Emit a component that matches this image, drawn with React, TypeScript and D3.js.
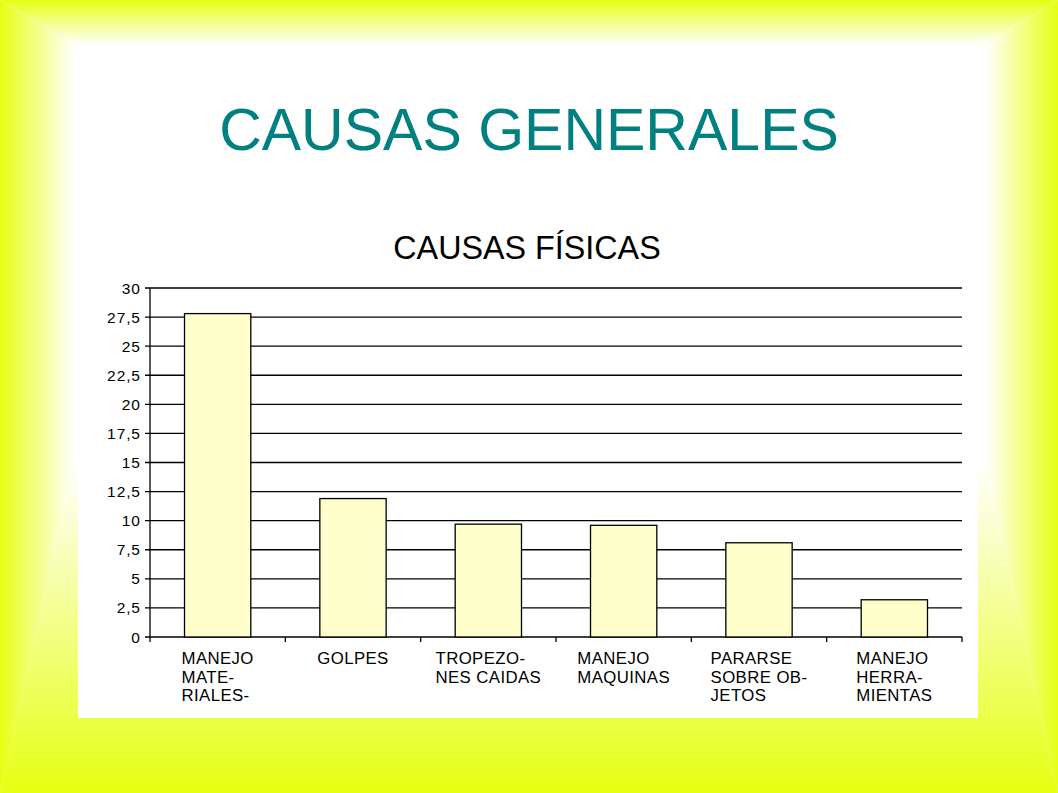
import React from "react";
import * as d3 from "d3";

const categoryLines: string[][] = [
  ["MANEJO", "MATE-", "RIALES-"],
  ["GOLPES"],
  ["TROPEZO-", "NES CAIDAS"],
  ["MANEJO", "MAQUINAS"],
  ["PARARSE", "SOBRE OB-", "JETOS"],
  ["MANEJO", "HERRA-", "MIENTAS"],
];
const values: number[] = [27.8, 11.9, 9.7, 9.6, 8.1, 3.2];
const yTickValues: number[] = [0, 2.5, 5, 7.5, 10, 12.5, 15, 17.5, 20, 22.5, 25, 27.5, 30];
const yTickLabels: string[] = ["0", "2,5", "5", "7,5", "10", "12,5", "15", "17,5", "20", "22,5", "25", "27,5", "30"];
const mainTitle = "CAUSAS GENERALES";
const chartTitle = "CAUSAS FÍSICAS";

const W = 1058;
const H = 793;
const YEL = "#e6ff12";
const FONT = "'Liberation Sans', Arial, sans-serif";
const CAT_FONT_SIZE = 16.8;
const CAT_SPACING = 0.4;
const TICK_FONT_SIZE = 15.5;
const TICK_SPACING = 0.9;

let measureCtx: CanvasRenderingContext2D | null = null;
function measure(text: string, size: number, spacing: number): number {
  if (!measureCtx) {
    const c = document.createElement("canvas");
    measureCtx = c.getContext("2d");
  }
  if (!measureCtx) return text.length * size * 0.6;
  measureCtx.font = `${size}px 'Liberation Sans', Arial, sans-serif`;
  return measureCtx.measureText(text).width + spacing * text.length;
}

export default function App() {
  const left = 150, right = 962, top = 288, bottom = 637;
  const keys = categoryLines.map((_, i) => String(i));
  const x = d3.scaleBand<string>().domain(keys).range([left, right]).padding(0);
  const y = d3.scaleLinear().domain([0, 30]).range([bottom, top]);
  const barW = x.bandwidth() * 0.49;

  const ix = 75, iy = 45, ir = 985, ib = 460;

  return (
    <svg width={W} height={H} style={{ position: "absolute", left: 0, top: 0, display: "block" }}>
      <defs>
        <linearGradient id="gTop" gradientUnits="userSpaceOnUse" x1="0" y1="0" x2="0" y2={iy}>
          <stop offset="0" stopColor={YEL} />
          <stop offset="1" stopColor="#ffffff" />
        </linearGradient>
        <linearGradient id="gLeft" gradientUnits="userSpaceOnUse" x1="0" y1="0" x2={ix} y2="0">
          <stop offset="0" stopColor={YEL} />
          <stop offset="1" stopColor="#ffffff" />
        </linearGradient>
        <linearGradient id="gRight" gradientUnits="userSpaceOnUse" x1={W} y1="0" x2={ir} y2="0">
          <stop offset="0" stopColor={YEL} />
          <stop offset="1" stopColor="#ffffff" />
        </linearGradient>
        <linearGradient id="gBottom" gradientUnits="userSpaceOnUse" x1="0" y1={H} x2="0" y2={ib}>
          <stop offset="0" stopColor={YEL} />
          <stop offset="1" stopColor="#ffffff" />
        </linearGradient>
      </defs>
      <rect x={0} y={0} width={W} height={H} fill="#ffffff" />
      <polygon points={`0,0 ${W},0 ${ir},${iy} ${ix},${iy}`} fill="url(#gTop)" />
      <polygon points={`0,0 ${ix},${iy} ${ix},${ib} 0,${H}`} fill="url(#gLeft)" />
      <polygon points={`${W},0 ${ir},${iy} ${ir},${ib} ${W},${H}`} fill="url(#gRight)" />
      <polygon points={`0,${H} ${ix},${ib} ${ir},${ib} ${W},${H}`} fill="url(#gBottom)" />

      <text x={529} y={150} textAnchor="middle" fontFamily={FONT} fontSize={59} fill="#008080">
        {mainTitle}
      </text>

      <rect x={78} y={195} width={900} height={523} fill="#ffffff" />

      <text x={527} y={259} textAnchor="middle" fontFamily={FONT} fontSize={32.3} fill="#000000">
        {chartTitle}
      </text>

      {yTickValues.map((v, i) => (
        <g key={"g" + i}>
          <line x1={left - 5} x2={right} y1={y(v)} y2={y(v)} stroke="#000" strokeWidth={1.3} />
          <text x={140 + TICK_SPACING} y={y(v) + 5.5} textAnchor="end" fontFamily={FONT}
            fontSize={TICK_FONT_SIZE} letterSpacing={TICK_SPACING} fill="#000">
            {yTickLabels[i]}
          </text>
        </g>
      ))}

      <line x1={left} x2={left} y1={top} y2={bottom + 5} stroke="#000" strokeWidth={1.3} />
      {keys.map((k, i) => (
        <line key={"t" + i} x1={(x(k) as number) + x.bandwidth()} x2={(x(k) as number) + x.bandwidth()}
          y1={bottom} y2={bottom + 5} stroke="#000" strokeWidth={1.3} />
      ))}

      {values.map((v, i) => {
        const cx = (x(keys[i]) as number) + x.bandwidth() / 2;
        return (
          <rect key={"b" + i} x={cx - barW / 2} y={y(v)} width={barW} height={y(0) - y(v)}
            fill="#ffffcc" stroke="#000" strokeWidth={1.3} />
        );
      })}

      {categoryLines.map((lines, i) => {
        const cx = (x(keys[i]) as number) + x.bandwidth() / 2;
        const maxW = Math.max(...lines.map((l) => measure(l, CAT_FONT_SIZE, CAT_SPACING)));
        const lx = cx - maxW / 2;
        return (
          <text key={"c" + i} fontFamily={FONT} fontSize={CAT_FONT_SIZE} letterSpacing={CAT_SPACING} fill="#000">
            {lines.map((l, j) => (
              <tspan key={j} x={lx} y={664 + j * 18.7}>{l}</tspan>
            ))}
          </text>
        );
      })}
    </svg>
  );
}
